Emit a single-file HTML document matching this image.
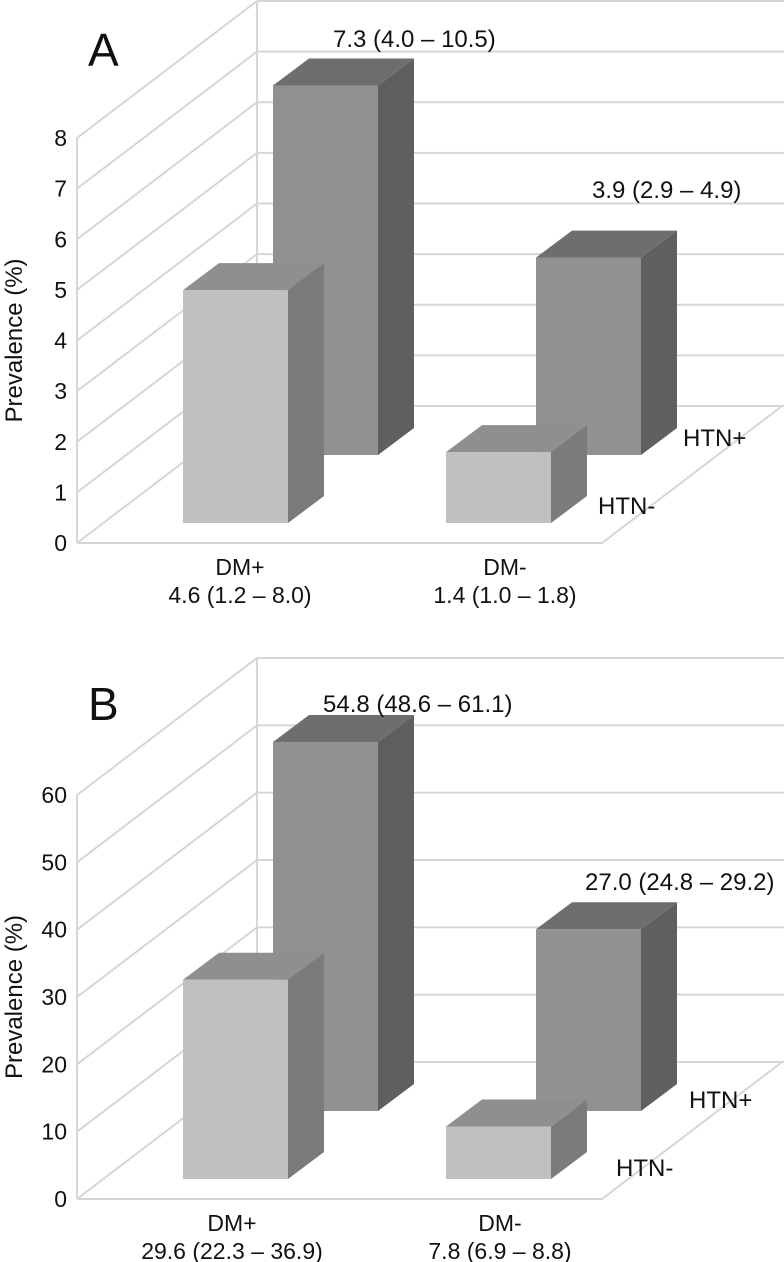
<!DOCTYPE html>
<html><head><meta charset="utf-8">
<style>
html,body{margin:0;padding:0;background:#fff;}
svg{display:block;font-family:"Liberation Sans",Arial,sans-serif;}
</style></head>
<body>
<svg id="chart" width="784" height="1262" viewBox="0 0 784 1262" xmlns="http://www.w3.org/2000/svg"></svg>
<script>
// Panel A data
const categoriesA = ["DM+", "DM-"];
const htnNegA = [4.6, 1.4];
const htnPosA = [7.3, 3.9];
const catLabelsA = ["4.6 (1.2 – 8.0)", "1.4 (1.0 – 1.8)"];
const htnPosLabelsA = ["7.3 (4.0 – 10.5)", "3.9 (2.9 – 4.9)"];
const ticksA = [0,1,2,3,4,5,6,7,8];
// Panel B data
const categoriesB = ["DM+", "DM-"];
const htnNegB = [29.6, 7.8];
const htnPosB = [54.8, 27.0];
const catLabelsB = ["29.6 (22.3 – 36.9)", "7.8 (6.9 – 8.8)"];
const htnPosLabelsB = ["54.8 (48.6 – 61.1)", "27.0 (24.8 – 29.2)"];
const ticksB = [0,10,20,30,40,50,60];

const svg = document.getElementById('chart');
const NS = 'http://www.w3.org/2000/svg';
function mk(tag, attrs, parent){
  const e = document.createElementNS(NS, tag);
  for (const k in attrs) e.setAttribute(k, attrs[k]);
  (parent||svg).appendChild(e);
  return e;
}
function panel(o){
  const g = mk('g', {});
  
  
  const X0 = 77, XF = 602, DX = 180, DY = 137, XR = 784;
  const max = o.ticks[o.ticks.length-1];
  const yv = v => o.y0 - v * o.scale;
  const grid = '#d6d6d6';
  o.ticks.forEach((t, i) => {
    const y = yv(t);
    const l1 = mk('line', {x1:X0, y1:y, x2:X0+DX, y2:y-DY, stroke:grid, 'stroke-width':2}, g);
    
    
    const l2 = mk('line', {x1:X0+DX, y1:y-DY, x2:XR, y2:y-DY, stroke:grid, 'stroke-width':2}, g);
    
    
    const tx = mk('text', {x:67, y:y+8, 'text-anchor':'end', 'font-size':23, fill:'#111'}, g);
    tx.textContent = t;
    
    
  });
  const va = mk('line', {x1:X0, y1:yv(0), x2:X0, y2:yv(max), stroke:grid, 'stroke-width':2}, g);
  
  
  const vb = mk('line', {x1:X0+DX, y1:yv(0)-DY, x2:X0+DX, y2:yv(max)-DY, stroke:grid, 'stroke-width':2}, g);
  
  
  const fl = mk('polyline', {points:`${X0},${yv(0)} ${XF},${yv(0)} ${XF+DX},${yv(0)-DY}`, fill:'none', stroke:grid, 'stroke-width':2}, g);
  
  

  const BW = 105, BD = 36, BDY = 27;
  function bar(x, base, v, cols, name){
    const top = base - v * o.scale;
    const bg = mk('g', {}, g);
    
    
    mk('polygon', {points:`${x+BW},${base} ${x+BW+BD},${base-BDY} ${x+BW+BD},${top-BDY} ${x+BW},${top}`, fill:cols[1]}, bg);
    mk('polygon', {points:`${x},${top} ${x+BD},${top-BDY} ${x+BW+BD},${top-BDY} ${x+BW},${top}`, fill:cols[2]}, bg);
    mk('rect', {x:x, y:top, width:BW, height:v*o.scale, fill:cols[0]}, bg);
  }
  const posX = [273, 536], negX = [183, 446];
  const posCols = ['#919191', '#5f5f5f', '#6e6e6e'];
  const negCols = ['#c0c0c0', '#7b7b7b', '#8f8f8f'];
  o.pos.forEach((v, i) => bar(posX[i], o.y0 - 88, v, posCols, 'bar-htn-pos-' + o.cats[i]));
  o.neg.forEach((v, i) => bar(negX[i], o.y0 - 20, v, negCols, 'bar-htn-neg-' + o.cats[i]));

  function txt(s, x, y, size, anchor, name){
    const t = mk('text', {x:x, y:y, 'font-size':size, 'text-anchor':anchor||'start', fill:'#111'}, g);
    t.textContent = s;
    
    
    return t;
  }
  txt(o.posLabels[0], o.lab1[0], o.lab1[1], 24, 'start', 'value-label-dm-pos');
  txt(o.posLabels[1], o.lab2[0], o.lab2[1], 24, 'start', 'value-label-dm-neg');
  txt('HTN+', o.htnp[0], o.htnp[1], 24, 'start', 'series-label-htn-pos');
  txt('HTN-', o.htnn[0], o.htnn[1], 24, 'start', 'series-label-htn-neg');
  o.cats.forEach((c, i) => {
    txt(c, o.cx[i], o.y0 + 32, 23, 'middle', 'category-label');
    txt(o.catLabels[i], o.cx[i], o.y0 + 60, 23, 'middle', 'category-ci-label');
  });
  const ty = (yv(0) + yv(max)) / 2;
  const tt = mk('text', {x:0, y:0, 'font-size':24, 'text-anchor':'middle', fill:'#111', transform:`translate(22,${ty}) rotate(-90)`}, g);
  tt.textContent = 'Prevalence (%)';
  
  
  txt(o.id, 88, o.letterY, 46, 'start', 'panel-letter');
}
panel({id:'A', y0:543, scale:405/8, ticks:ticksA, cats:categoriesA, neg:htnNegA, pos:htnPosA,
  catLabels:catLabelsA, posLabels:htnPosLabelsA, lab1:[333,47], lab2:[592,198],
  htnp:[683,446], htnn:[598,514], cx:[240,505], letterY:66});
panel({id:'B', y0:1199, scale:404/60, ticks:ticksB, cats:categoriesB, neg:htnNegB, pos:htnPosB,
  catLabels:catLabelsB, posLabels:htnPosLabelsB, lab1:[323,712], lab2:[585,890],
  htnp:[689,1108], htnn:[616,1176], cx:[232,500], letterY:720});
</script>
</body></html>
